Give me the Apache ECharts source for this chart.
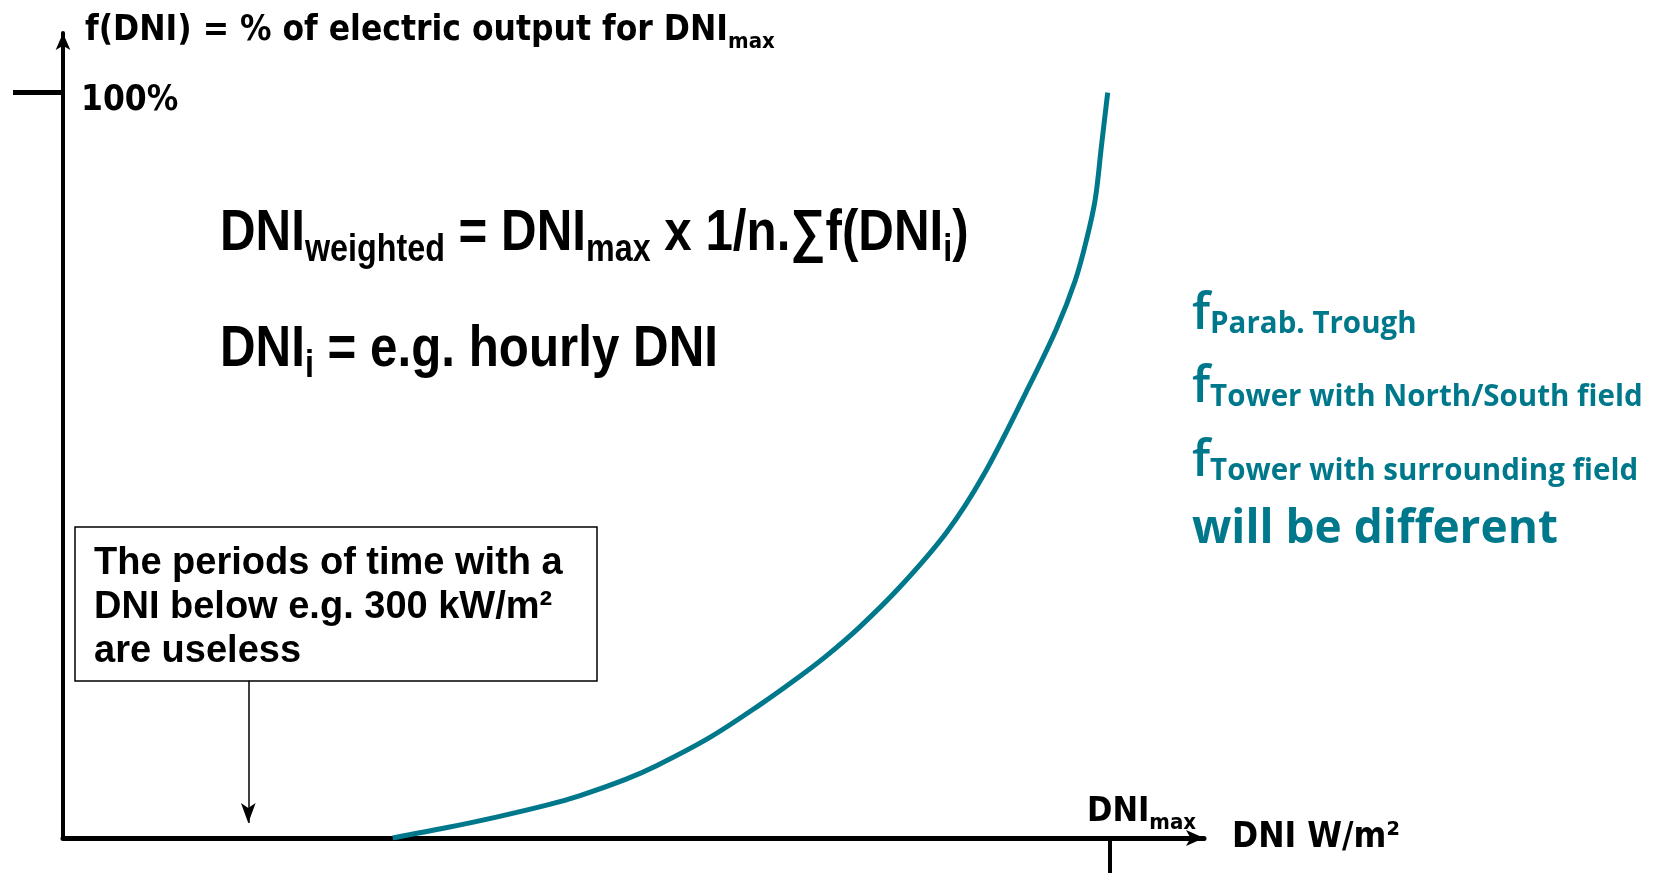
<!DOCTYPE html>
<html>
<head>
<meta charset="utf-8" />
<title>f(DNI)</title>
<script src="https://cdn.jsdelivr.net/npm/echarts@6/dist/echarts.min.js"></script>
<style>
  html, body { margin: 0; padding: 0; background: #fff; }
  #chart { width: 1659px; height: 873px; }
</style>
</head>
<body>
<div id="chart"></div>
<script>
// curve: DNI (W/m2) -> % of electric output
const dniValues = [315, 367, 414, 462, 494, 538, 567, 618, 666, 704, 729, 761, 799, 844, 879, 920, 949, 967, 978, 986, 992, 998];
const outputPct = [0, 1.4, 2.8, 4.4, 5.7, 7.9, 9.7, 13.5, 17.9, 21.7, 24.4, 28.3, 33.6, 41.0, 48.6, 59.8, 68.3, 74.8, 80.4, 85.6, 92.8, 100];

const dniMax = 1000;
const fullOutput = 100;
const uselessDni = 177; // where the note arrow points

const noteLines = ["The periods of time with a", "DNI below e.g. 300 kW/m²", "are useless"];
const plantLines = ["Parab. Trough", "Tower with North/South field", "Tower with surrounding field"];

const TEAL = "#00788c";
const NARROW = "'DejaVu Sans Condensed', 'Arial Narrow', sans-serif";
const SANS = "'Liberation Sans', Arial, sans-serif";
const ROUND = "'Open Sans', 'Noto Sans', sans-serif";

const curveData = dniValues.map((x, i) => [x, outputPct[i]]);

// Arial-like bold squeezed horizontally, close to Arial Narrow
const formulaText = (text, y) => ({
  type: "text",
  x: 220,
  y: y,
  scaleX: 0.85,
  style: {
    text: text,
    fontFamily: SANS,
    fontWeight: "bold",
    fontSize: 58,
    lineHeight: 72,
    fill: "#000",
    rich: { sub: { fontSize: 38, lineHeight: 38, verticalAlign: "bottom", fontFamily: SANS, fontWeight: "bold", fill: "#000" } }
  }
});

const option = {
  animation: false,
  grid: { left: 63, right: 455, top: 33, bottom: 35 },
  xAxis: {
    type: "value",
    min: 0,
    max: 1090,
    splitLine: { show: false },
    axisLine: {
      onZero: false,
      symbol: ["none", "arrow"],
      symbolSize: [12, 18],
      lineStyle: { color: "#000", width: 5 }
    },
    axisTick: { show: true, customValues: [dniMax], length: 35, lineStyle: { color: "#000", width: 4 } },
    axisLabel: { show: false },
    name: "DNI W/m²",
    nameLocation: "end",
    nameGap: 28,
    nameTextStyle: { fontFamily: NARROW, fontWeight: "bold", fontSize: 35, color: "#000", verticalAlign: "middle" }
  },
  yAxis: {
    type: "value",
    min: 0,
    max: 108,
    splitLine: { show: false },
    axisLine: {
      symbol: ["none", "arrow"],
      symbolSize: [11, 17],
      lineStyle: { color: "#000", width: 4 }
    },
    axisTick: { show: true, customValues: [fullOutput], length: 50, lineStyle: { color: "#000", width: 5 } },
    axisLabel: {
      show: true,
      customValues: [fullOutput],
      inside: true,
      margin: 18,
      formatter: (v) => v + "%",
      fontFamily: NARROW,
      fontWeight: "bold",
      fontSize: 35,
      color: "#000",
      verticalAlign: "top",
      lineHeight: 16.5
    },
    name: "f(DNI) = % of electric output for DNI{sub|max}",
    nameLocation: "end",
    nameGap: 2,
    nameTextStyle: {
      align: "left",
      verticalAlign: "middle",
      padding: [0, 0, 0, 22],
      fontFamily: NARROW,
      fontWeight: "bold",
      fontSize: 35,
      lineHeight: 44,
      color: "#000",
      rich: { sub: { fontSize: 22, lineHeight: 22, verticalAlign: "bottom", fontFamily: NARROW, fontWeight: "bold", color: "#000" } }
    }
  },
  series: [
    {
      type: "line",
      data: curveData,
      smooth: 0.35,
      symbol: "none",
      lineStyle: { color: TEAL, width: 5 },
      markLine: {
        silent: true,
        symbol: ["none", "arrow"],
        symbolSize: [11, 20],
        label: { show: false },
        lineStyle: { color: "#000", width: 1.5, type: "solid" },
        data: [[{ coord: [uselessDni, 21.1] }, { coord: [uselessDni, 2.0] }]]
      }
    }
  ],
  graphic: [
    formulaText("DNI{sub|weighted} = DNI{sub|max} x 1/n.∑f(DNI{sub|i})", 198),
    formulaText("DNI{sub|i} = e.g. hourly DNI", 314),
    {
      type: "text",
      x: 1087,
      y: 790,
      style: {
        text: "DNI{sub|max}",
        fontFamily: NARROW,
        fontWeight: "bold",
        fontSize: 34,
        lineHeight: 44,
        fill: "#000",
        rich: { sub: { fontSize: 22, lineHeight: 22, verticalAlign: "bottom", fontFamily: NARROW, fontWeight: "bold", fill: "#000" } }
      }
    },
    // note box
    {
      type: "rect",
      shape: { x: 75, y: 527, width: 522, height: 154 },
      style: { fill: "#fff", stroke: "#000", lineWidth: 1.5 }
    },
    {
      type: "text",
      x: 94,
      y: 542,
      style: {
        text: noteLines.join("\n"),
        fontFamily: SANS,
        fontWeight: "bold",
        fontSize: 38,
        lineHeight: 44,
        fill: "#000"
      }
    },
    // plant types, teal
    ...plantLines.map((t, i) => ({
      type: "text",
      x: 1192,
      y: 289.5 + i * 73.5,
      style: {
        text: "{f|f}{sub|" + t + "}",
        lineHeight: 50,
        fill: TEAL,
        rich: {
          f: { fontSize: 50, lineHeight: 50, verticalAlign: "bottom", fontFamily: ROUND, fontWeight: 600, fill: TEAL },
          sub: { fontSize: 29.5, lineHeight: 29.5, verticalAlign: "bottom", fontFamily: ROUND, fontWeight: "bold", fill: TEAL }
        }
      }
    })),
    {
      type: "text",
      x: 1192,
      y: 507,
      style: {
        text: "will be different",
        fontFamily: ROUND,
        fontWeight: "bold",
        fontSize: 46,
        fill: TEAL
      }
    }
  ]
};

const myChart = echarts.init(document.getElementById("chart"));
myChart.setOption(option);
window.onresize = function () {
  myChart.resize();
};
</script>
</body>
</html>
